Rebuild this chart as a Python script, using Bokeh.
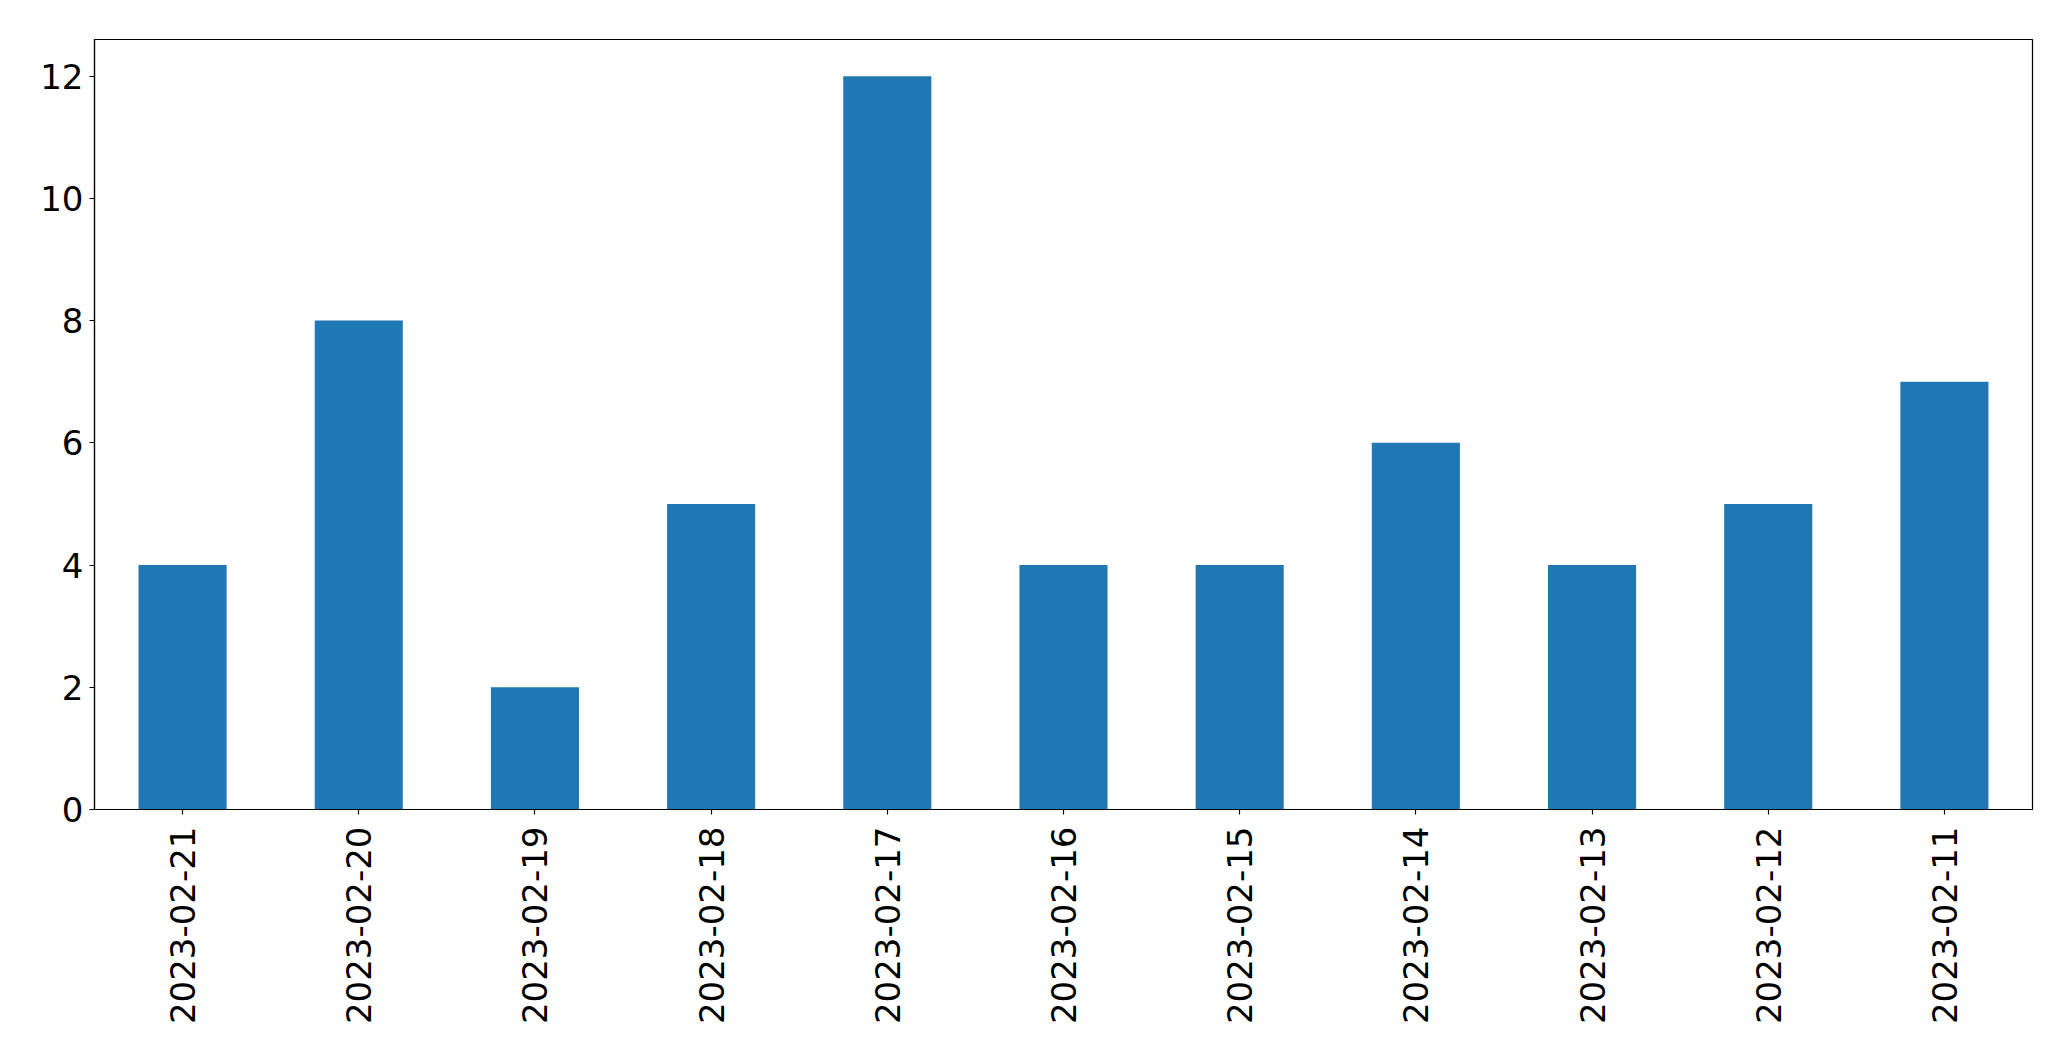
import math
from bokeh.plotting import figure
from bokeh.models import FactorRange, Range1d, FixedTicker
from bokeh.embed import file_html
from bokeh.resources import INLINE

dates = ["2023-02-21", "2023-02-20", "2023-02-19", "2023-02-18", "2023-02-17",
         "2023-02-16", "2023-02-15", "2023-02-14", "2023-02-13", "2023-02-12",
         "2023-02-11"]
counts = [4, 8, 2, 5, 12, 4, 4, 6, 4, 5, 7]
y_ticks = [0, 2, 4, 6, 8, 10, 12]

p = figure(
    width=2063, height=1053,
    x_range=FactorRange(*dates, range_padding=0),
    y_range=Range1d(0, 12.6),
    output_backend="svg", toolbar_location=None,
    min_border_left=94, min_border_right=31, min_border_top=39, min_border_bottom=244,
)

p.vbar(x=dates, top=counts, width=0.5, fill_color="#1f77b4", line_color=None)

p.outline_line_color = "black"
p.outline_line_width = 1.2
p.xgrid.visible = False
p.ygrid.visible = False
p.background_fill_color = "white"
p.border_fill_color = "white"

for ax in (p.xaxis[0], p.yaxis[0]):
    ax.axis_line_color = "black"
    ax.axis_line_width = 1.2
    ax.major_tick_line_color = "black"
    ax.major_tick_line_width = 1.2
    ax.major_tick_out = 5
    ax.major_tick_in = 0
    ax.minor_tick_line_color = None
    ax.major_label_text_font = "DejaVu Sans"
    ax.major_label_text_font_size = "34px"
    ax.major_label_text_color = "black"

p.yaxis[0].ticker = FixedTicker(ticks=y_ticks)
p.yaxis[0].major_label_standoff = 6
p.xaxis[0].major_label_orientation = math.pi / 2
p.xaxis[0].major_label_standoff = 12

open("out.html", "w").write(file_html(p, INLINE))
